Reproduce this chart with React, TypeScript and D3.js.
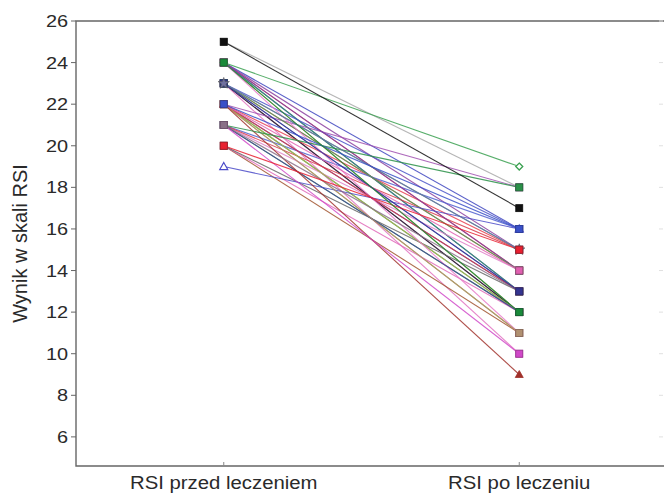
import React from "react";
import * as d3 from "d3";

const categories = ["RSI przed leczeniem", "RSI po leczeniu"];
const yTicks = [6, 8, 10, 12, 14, 16, 18, 20, 22, 24, 26];
const yLabel = "Wynik w skali RSI";

// each case: score before, score after, colour, marker shape
const before = [25, 24, 24, 24, 24, 24, 24, 23, 23, 23, 23, 23, 22, 22, 22, 22, 22, 21, 21, 21, 21, 20, 20, 20,
  24, 23, 23, 22, 24, 21, 22, 23,
  24, 19, 22, 22, 22, 21, 21, 21, 23, 23, 20, 22, 24, 25];
const after = [18, 13, 16, 15, 14, 12, 13, 16, 12, 10, 14, 12, 12, 18, 15, 13, 11, 14, 16, 15, 12, 11, 12, 13,
  14, 13, 14, 12, 11, 12, 13, 15,
  19, 16, 14, 11, 9, 18, 10, 13, 13, 15, 15, 16, 12, 17];
const colors = ["#a8a8a8", "#555555", "#3f46c0", "#8b3fa0", "#e0303a", "#9a9a30", "#2a8a8a", "#4a55c8", "#9548a8", "#e070c0", "#e04848", "#222222",
  "#2e9a4a", "#a050b0", "#e84050", "#3a3a90", "#a0a040", "#e080c8", "#5060d0", "#d83848", "#38a050", "#a0522d", "#e068b8", "#666666",
  "#7a40a8", "#4a58c0", "#48a058", "#b0b050", "#e878c8", "#404098", "#e03848", "#3a9090",
  "#3aa050", "#4a4ac8", "#e060b0", "#b09070", "#a0302a", "#2a9048", "#d048c8", "#8a7088", "#343490", "#7070a0", "#e82030", "#3a50c8", "#1a8a3a", "#111111"];
const shapes = ["square", "square", "square", "square", "square", "square", "square", "square", "square", "square", "square", "square",
  "square", "square", "square", "square", "square", "square", "square", "square", "square", "square", "square", "square",
  "square", "square", "square", "square", "square", "square", "square", "square",
  "diamond", "triangleOpen", "square", "square", "triangle", "square", "square", "square", "square", "star", "square", "square", "square", "square"];

const W = 664, H = 494;
const left = 76, right = 664, top = 21, bottom = 466;

function Marker({ x, y, shape, color }: { x: number; y: number; shape: string; color: string }) {
  if (shape === "diamond") {
    return <path d={`M${x},${y - 3.5}L${x + 3.5},${y}L${x},${y + 3.5}L${x - 3.5},${y}Z`} fill="#fff" stroke={color} strokeWidth={1.3} />;
  }
  if (shape === "triangleOpen") {
    return <path d={`M${x},${y - 4}L${x + 4},${y + 3}L${x - 4},${y + 3}Z`} fill="#fff" stroke={color} strokeWidth={1.2} />;
  }
  if (shape === "triangle") {
    return <path d={`M${x},${y - 4}L${x + 4},${y + 3}L${x - 4},${y + 3}Z`} fill={color} stroke={color} strokeWidth={0.8} />;
  }
  if (shape === "star") {
    const sym = d3.symbol(d3.symbolStar, 40)();
    return <path transform={`translate(${x},${y})`} d={sym || ""} fill={color} stroke="#555" strokeWidth={0.6} />;
  }
  return <rect x={x - 3.5} y={y - 3.5} width={7} height={7} fill={color} stroke={d3.color(color)!.darker(0.8).toString()} strokeWidth={0.8} />;
}

export default function App() {
  const x = d3.scalePoint<string>().domain(categories).range([left, right + 3]).padding(0.5);
  const y = d3.scaleLinear().domain([4.6, 26]).range([bottom, top]);
  const x0 = x(categories[0])!;
  const x1 = x(categories[1])!;
  const idx = before.map((_, i) => i);
  const font = "'Liberation Sans', Arial, sans-serif";

  return (
    <svg width={W} height={H} style={{ position: "absolute", left: 0, top: 0, background: "#fff" }}>
      <rect x={0} y={0} width={W} height={H} fill="#fff" />
      {/* frame */}
      <path d={`M${right + 2},${top}H${left}V${bottom}H${right + 2}`} fill="none" stroke="#666" strokeWidth={1.4} />
      {yTicks.map((t) => (
        <g key={t}>
          <line x1={left - 5} x2={left} y1={y(t)} y2={y(t)} stroke="#666" />
          <text
            transform={`translate(${left - 8},${y(t)}) scale(1.17,1)`}
            dy="0.36em"
            textAnchor="end"
            fontFamily={font}
            fontSize={17}
            fill="#2a2a2a"
          >
            {t}
          </text>
          <line x1={659} x2={663} y1={y(t)} y2={y(t)} stroke="#e0e0e0" />
        </g>
      ))}
      {categories.map((c) => (
        <g key={c}>
          <line x1={x(c)!} x2={x(c)!} y1={bottom} y2={bottom - 4} stroke="#888" />
          <text
            transform={`translate(${x(c)!},489) scale(1.13,1)`}
            textAnchor="middle"
            fontFamily={font}
            fontSize={18}
            fill="#2a2a2a"
          >
            {c}
          </text>
        </g>
      ))}
      <text
        transform={`translate(27,${(top + bottom) / 2}) rotate(-90)`}
        textAnchor="middle"
        fontFamily={font}
        fontSize={20}
        fill="#2a2a2a"
      >
        {yLabel}
      </text>
      {/* lines */}
      {idx.map((i) => (
        <line key={"l" + i} x1={x0} y1={y(before[i])} x2={x1} y2={y(after[i])} stroke={colors[i]} strokeWidth={1.1} strokeOpacity={0.85} />
      ))}
      {/* markers */}
      {idx.map((i) => (
        <Marker key={"a" + i} x={x0} y={y(before[i])} shape={shapes[i]} color={colors[i]} />
      ))}
      {idx.map((i) => (
        <Marker key={"b" + i} x={x1} y={y(after[i])} shape={shapes[i]} color={colors[i]} />
      ))}
    </svg>
  );
}
